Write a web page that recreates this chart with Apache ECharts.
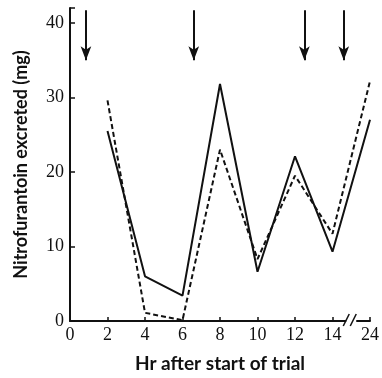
<!DOCTYPE html>
<html><head><meta charset="utf-8">
<script src="https://cdn.jsdelivr.net/npm/echarts@6/dist/echarts.min.js"></script>
<style>html,body{margin:0;padding:0;background:#fff}#c{width:382px;height:378px}</style>
</head><body><div id="c"></div>
<script>
const hours = [2, 4, 6, 8, 10, 12, 14, 24];
const solidValues = [25.5, 6, 3.4, 31.8, 6.6, 22.1, 9.3, 27];
const dashedValues = [29.6, 1.1, 0.1, 23, 8.3, 19.5, 11.7, 32.2];
const arrowHours = [0.85, 6.6, 12.5, 14.6];
const arrowTop = 41.7, arrowTip = 35;
const xTickLabels = ['0','2','4','6','8','10','12','14','24'];
const yTickLabels = ['0','10','20','30','40'];
const breakHour = 15;
// axis break: hour 24 is drawn at position 16
const pos = h => (h > breakHour ? 16 : h);

const chart = echarts.init(document.getElementById('c'));
const tickFont = {fontFamily: 'Liberation Sans Narrow', fontSize: 18, color: '#111'};
chart.setOption({
  animation: false,
  grid: {left: 70, right: 8, top: 8, bottom: 50},
  xAxis: {
    type: 'value', min: 0, max: 16, interval: 2,
    axisLine: {lineStyle: {color: '#111', width: 2}},
    axisTick: {inside: true, length: 4, lineStyle: {color: '#111', width: 1.5}},
    splitLine: {show: false},
    axisLabel: Object.assign({margin: 5, formatter: v => xTickLabels[v / 2]}, tickFont),
    name: 'Hr after start of trial', nameLocation: 'middle', nameGap: 33,
    nameTextStyle: {fontFamily: 'Lato', fontWeight: 'bold', fontSize: 19, color: '#111'}
  },
  yAxis: {
    type: 'value', min: 0, max: 42, interval: 10,
    axisLine: {show: true, lineStyle: {color: '#111', width: 2}},
    axisTick: {inside: true, length: 5, lineStyle: {color: '#111', width: 1.5}},
    splitLine: {show: false},
    axisLabel: Object.assign({margin: 6, formatter: v => (v % 10 === 0 ? yTickLabels[v / 10] : '')}, tickFont),
    name: 'Nitrofurantoin excreted (mg)', nameLocation: 'middle', nameGap: 40,
    nameTextStyle: {fontFamily: 'Lato', fontWeight: 'bold', fontSize: 18, color: '#111'}
  },
  series: [
    {type: 'line', data: hours.map((h, i) => [pos(h), solidValues[i]]), symbol: 'none',
     lineStyle: {color: '#111', width: 2}},
    {type: 'line', data: hours.map((h, i) => [pos(h), dashedValues[i]]), symbol: 'none',
     lineStyle: {color: '#111', width: 2, type: [5, 3]}},
    {type: 'line', data: [], symbol: 'none',
     markLine: {silent: true, symbol: ['none', 'arrow'], symbolSize: [8, 14], label: {show: false},
       lineStyle: {color: '#111', width: 2, type: 'solid'},
       data: arrowHours.map(h => [{coord: [h, arrowTop]}, {coord: [h, arrowTip]}])}},
    {type: 'custom', silent: true, data: [[breakHour, 0]], clip: false, z: 10,
     renderItem: (params, api) => {
       const p = api.coord([api.value(0), api.value(1)]);
       return {type: 'group', children: [
         {type: 'rect', shape: {x: p[0] - 5, y: p[1] - 3, width: 10, height: 6}, style: {fill: '#fff'}},
         {type: 'line', shape: {x1: p[0] - 8, y1: p[1] + 5, x2: p[0] - 2, y2: p[1] - 7}, style: {stroke: '#111', lineWidth: 1.5}},
         {type: 'line', shape: {x1: p[0] - 1, y1: p[1] + 5, x2: p[0] + 5, y2: p[1] - 7}, style: {stroke: '#111', lineWidth: 1.5}}
       ]};
     }}
  ]
});
</script></body></html>
